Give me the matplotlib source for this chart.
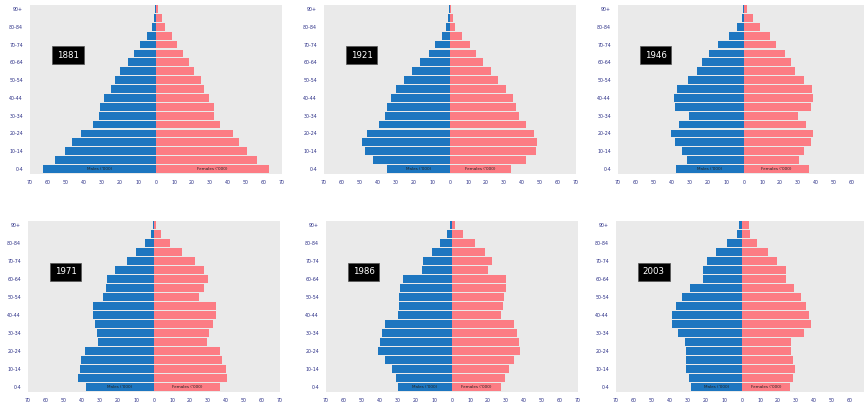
import matplotlib
matplotlib.use("Agg")
import matplotlib.pyplot as plt
import numpy as np

age_groups = ["0-4", "5-9", "10-14", "15-19", "20-24", "25-29", "30-34", "35-39",
              "40-44", "45-49", "50-54", "55-59", "60-64", "65-69", "70-74",
              "75-79", "80-84", "85-89", "90+"]

years = ["1881", "1921", "1946", "1971", "1986", "2003"]

males_1881 = [62.8, 56.2, 50.7, 46.4, 41.7, 35.2, 31.5, 31.0, 28.7, 25.0, 22.7, 20.0,
              15.6, 12.5, 8.8, 5.0, 2.2, 1.0, 0.3]
females_1881 = [62.6, 56.0, 50.8, 46.2, 42.5, 35.6, 32.2, 32.0, 29.4, 26.6, 24.8, 21.0,
                18.2, 15.0, 11.7, 9.0, 5.2, 3.4, 1.0]

males_1921 = [34.8, 43.0, 47.3, 49.0, 46.0, 39.4, 36.3, 34.8, 33.0, 30.2, 25.6, 21.0,
              16.5, 11.9, 8.2, 4.6, 2.2, 0.9, 0.3]
females_1921 = [33.9, 42.1, 47.6, 48.5, 46.7, 42.1, 38.5, 36.6, 34.8, 31.1, 26.6, 22.9,
                18.3, 14.7, 11.0, 6.4, 2.7, 1.5, 0.7]

males_1946 = [37.9, 31.5, 34.6, 38.5, 40.7, 36.1, 30.6, 38.3, 38.8, 37.0, 31.0, 26.0,
              23.3, 19.6, 14.5, 8.6, 4.0, 1.3, 0.4]
females_1946 = [36.3, 30.8, 33.2, 37.2, 38.6, 34.4, 30.2, 37.2, 38.6, 37.5, 33.5, 28.4,
                26.2, 22.5, 17.9, 14.3, 8.8, 4.8, 1.5]

males_1971 = [37.8, 42.1, 41.2, 40.3, 38.4, 31.0, 31.9, 32.8, 33.8, 33.8, 28.2, 26.7,
              26.0, 21.7, 15.2, 10.0, 5.0, 1.9, 0.4]
females_1971 = [36.7, 40.4, 40.1, 37.7, 36.7, 29.3, 30.8, 32.7, 34.5, 34.5, 25.2, 27.8,
                30.2, 27.8, 22.8, 15.4, 8.9, 3.9, 1.1]

males_1986 = [30.2, 31.3, 33.4, 37.0, 40.9, 40.2, 38.8, 37.0, 29.8, 29.5, 29.5, 28.9,
              27.1, 16.8, 15.9, 11.1, 6.6, 2.7, 0.9]
females_1986 = [27.3, 29.5, 31.8, 34.5, 38.0, 37.1, 35.9, 34.5, 27.0, 28.2, 29.1, 30.0,
                30.0, 20.2, 22.0, 18.4, 12.7, 5.9, 1.4]

males_2003 = [28.2, 29.5, 30.9, 30.9, 31.3, 31.8, 35.5, 39.1, 39.1, 36.7, 33.1, 28.7,
              21.8, 21.8, 19.6, 14.5, 8.2, 2.7, 1.5]
females_2003 = [26.9, 28.2, 29.5, 28.2, 27.3, 27.3, 34.5, 38.2, 37.3, 35.5, 32.7, 29.1,
                24.5, 24.5, 19.6, 14.5, 8.2, 4.5, 4.0]

males = [males_1881, males_1921, males_1946, males_1971, males_1986, males_2003]
females = [females_1881, females_1921, females_1946, females_1971, females_1986, females_2003]

x_ticks = [-70, -60, -50, -40, -30, -20, -10, 0, 10, 20, 30, 40, 50, 60, 70]
male_label = "Males ('000)"
female_label = "Females ('000)"

W, H = 864, 405
fig = plt.figure(figsize=(W / 100, H / 100), dpi=100)

# axes rectangles in pixels: (left, top, right, bottom)
rects = [(30, 4.5, 282, 173.5), (324, 4.5, 576, 173.5), (618, 4.5, 870, 173.5),
         (28, 220.5, 280, 391.5), (326, 220.5, 578, 391.5), (616, 220.5, 868, 391.5)]

blue = "#1d76c0"
pink = "#fc7c84"
navy = "#2b2f86"

y = np.arange(len(age_groups))
for i, (l, t, r, b) in enumerate(rects):
    ax = fig.add_axes([l / W, 1 - b / H, (r - l) / W, (b - t) / H])
    ax.set_facecolor("#eaeaea")
    m = np.array(males[i])
    f = np.array(females[i])
    ax.barh(y, -m, height=0.88, color=blue, edgecolor="none")
    ax.barh(y, f, height=0.88, color=pink, edgecolor="none")
    ax.set_xlim(-70, 70)
    ax.set_ylim(-0.5, len(age_groups) - 0.5)
    ticks = x_ticks if r <= W else x_ticks[:-1]
    ax.set_xticks(ticks)
    ax.set_xticklabels([str(abs(v)) for v in ticks], fontsize=3.4, color=navy)
    ax.set_yticks(y[::2])
    ax.set_yticklabels(age_groups[::2], fontsize=3.4, color=navy)
    ax.tick_params(length=0, pad=5)
    for s in ax.spines.values():
        s.set_visible(False)
    ax.text(-49, 12.8, years[i], fontsize=6.2, color="white", ha="center", va="center",
            bbox=dict(boxstyle="square,pad=0.55", facecolor="black", edgecolor="#555555", lw=0.5))
    ax.text(-m[0] / 2, 0, male_label, fontsize=3, color="#222222", ha="center", va="center")
    ax.text(f[0] / 2, 0, female_label, fontsize=3, color="#222222", ha="center", va="center")

fig.savefig("out.png", dpi=100, facecolor="white")
